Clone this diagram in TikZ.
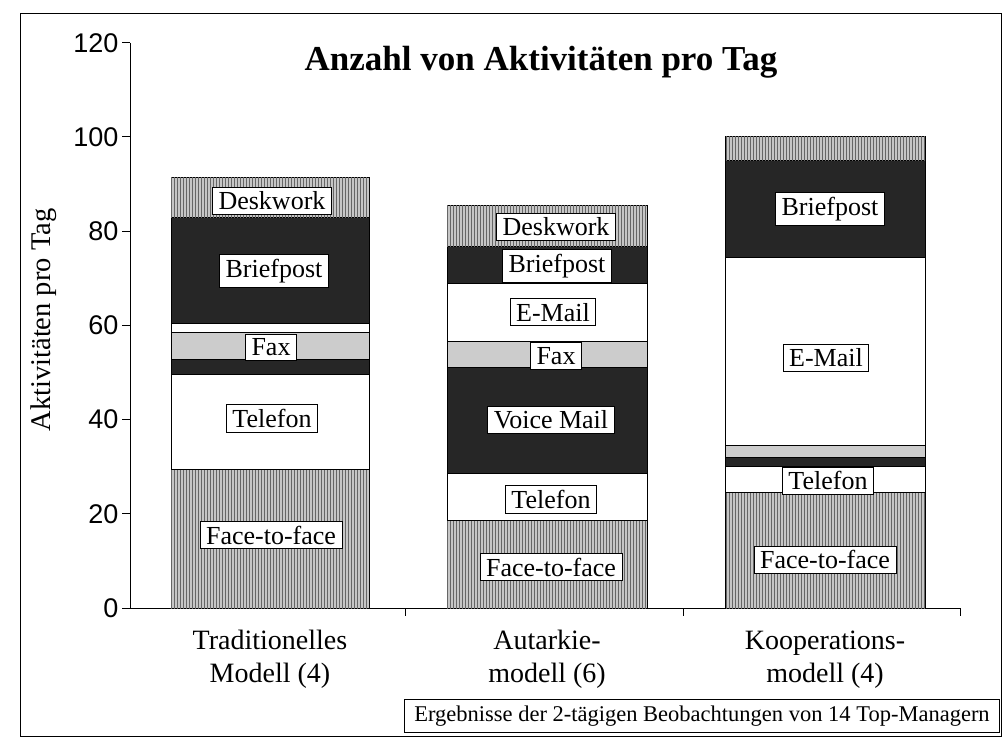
\documentclass[tikz,border=0pt]{standalone}
\usepackage{fontspec}
\setmainfont{Liberation Serif}
\newfontfamily\axisfont{Liberation Sans}
\usetikzlibrary{patterns}

\begin{document}
\begin{tikzpicture}[x=1pt,y=1pt,line width=1pt,
    hatch/.style={draw,fill=gray!45,postaction={pattern=vertical lines,pattern color=black!60}},
    dark/.style={draw,fill=black!85},
    light/.style={draw,fill=gray!40},
    blank/.style={draw,fill=white},
    tag/.style={draw,fill=white,line width=.8pt,inner xsep=6pt,inner ysep=4.5pt,
      font=\fontsize{26}{30}\selectfont},
    ticklabel/.style={anchor=east,inner sep=3pt,font=\axisfont\fontsize{27}{30}\selectfont},
    category/.style={anchor=north,align=center,inner sep=0pt,font=\fontsize{28}{33}\selectfont}
  ]
    \useasboundingbox (0,0) rectangle (1006,740);
    \draw (20,4) rectangle (1001,726);

    \node[font=\bfseries\fontsize{35}{40}\selectfont] (title) at (541,678) {Anzahl von Aktivitäten pro Tag};
    \node[rotate=90,font=\fontsize{28.5}{32}\selectfont] (ylabel) at (44,420) {Aktivitäten pro Tag};

    % chart area: y in activities per day
    \begin{scope}[shift={(0,132)},y=4.71pt]
      \draw (130,120) -- (130,0) -- (960,0);
      \foreach \v in {0,20,...,120}
        \draw (130,\v) -- (122,\v) node[ticklabel] (y\v) {\v};
      \foreach \x in {405,683,960}
        \draw (\x,0) -- ++(0,-8pt);

      % Traditionelles Modell
      \foreach \a/\b/\s in {0/29.5/hatch,29.5/49.5/blank,49.5/52.7/dark,52.7/58.4/light,
          58.4/60.5/blank,60.5/83/dark,83/91.5/hatch}
        \path[\s] (171,\a) rectangle (369,\b);
      \node[tag] (b1desk) at (272,86.4) {Deskwork};
      \node[tag] (b1brief) at (274,71.5) {Briefpost};
      \node[tag] (b1fax) at (271,55.4) {Fax};
      \node[tag] (b1tel) at (272,40.3) {Telefon};
      \node[tag] (b1face) at (271,15.5) {Face-to-face};

      % Autarkiemodell
      \foreach \a/\b/\s in {0/18.5/hatch,18.5/28.5/blank,28.5/51/dark,51/56.5/light,
          56.5/69/blank,69/76.7/dark,76.7/85.5/hatch}
        \path[\s] (447,\a) rectangle (647,\b);
      \node[tag] (b2desk) at (556,80.9) {Deskwork};
      \node[tag] (b2brief) at (557,72.6) {Briefpost};
      \node[tag] (b2mail) at (553,62.8) {E-Mail};
      \node[tag] (b2fax) at (556,53.5) {Fax};
      \node[tag] (b2voice) at (551,39.9) {Voice Mail};
      \node[tag] (b2tel) at (551,23.1) {Telefon};
      \node[tag] (b2face) at (551,8.7) {Face-to-face};

      % Kooperationsmodell
      \foreach \a/\b/\s in {0/24.6/hatch,24.6/30/blank,30/32/dark,32/34.6/light,
          34.6/74.5/blank,74.5/95/dark,95/100/hatch}
        \path[\s] (725,\a) rectangle (925,\b);
      \node[tag] (b3brief) at (830,84.7) {Briefpost};
      \node[tag] (b3mail) at (826,53.1) {E-Mail};
      \node[tag] (b3tel) at (828,27) {Telefon};
      \node[tag] (b3face) at (825,10.2) {Face-to-face};
    \end{scope}

    \node[category] (cat1) at (270,110) {Traditionelles\\Modell (4)};
    \node[category] (cat2) at (547,110) {Autarkie-\\modell (6)};
    \node[category] (cat3) at (825,110) {Kooperations-\\modell (4)};

    \node[draw,line width=.8pt,minimum width=595pt,minimum height=33pt,
      font=\fontsize{22.5}{26}\selectfont] (note) at (702,24)
      {Ergebnisse der 2-tägigen Beobachtungen von 14 Top-Managern};
  \end{tikzpicture}
\end{document}
